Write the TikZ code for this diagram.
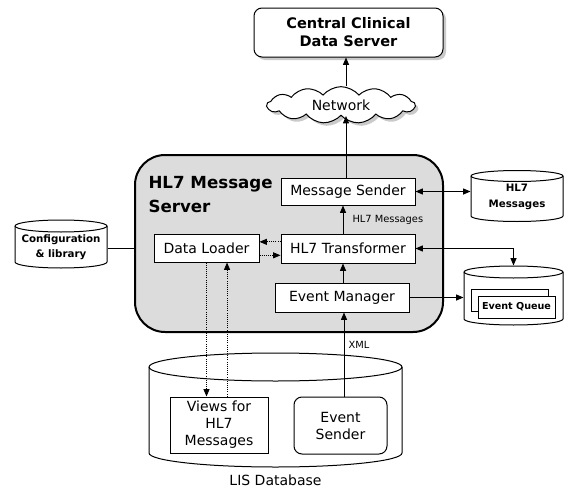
\documentclass[tikz,border=0pt]{standalone}
\usepackage{fontspec}
\setmainfont{DejaVu Sans}
\usetikzlibrary{arrows.meta,shapes.symbols,shadows,calc}
\definecolor{srvfill}{RGB}{220,220,220}
\definecolor{shd}{RGB}{150,150,150}
\newcommand\fs[2]{\fontsize{#1}{#2}\selectfont}
\newcommand\mycyl[5]{%
 \pgfmathsetmacro\cylrx{(#2-#1)/2}%
 \filldraw[fill=white] (#1,-#3) -- (#1,-#4) arc[start angle=180,end angle=360,x radius=\cylrx,y radius=#5] -- (#2,-#3) arc[start angle=0,end angle=180,x radius=\cylrx,y radius=#5] -- cycle;
 \draw (#1,-#3) arc[start angle=180,end angle=360,x radius=\cylrx,y radius=#5];
}
\begin{document}
\begin{tikzpicture}[x=0.75pt,y=0.75pt,line width=0.75pt,
  box/.style={draw,fill=white,inner sep=0pt,align=center,font=\fs{10.5}{12.75}},
  tipa/.tip={Triangle[length=5.5pt,width=4.5pt]},
  arr/.style={-tipa},
  darr/.style={tipa-tipa},
  dotarr/.style={-tipa,densely dotted,line width=0.6pt},
  lbl/.style={font=\fs{7.4}{9},inner sep=0pt},
  cyltext/.style={inner sep=0pt,align=center,font=\bfseries\fs{7.7}{12}},
  shadowed/.style={drop shadow={shadow xshift=2.25pt,shadow yshift=-2.25pt,fill=shd,draw=none}},
  area/.style={inner sep=0pt,draw=none}
]
\useasboundingbox (0,0) rectangle (568,-489);

% columns for vertical connectors
\coordinate (c1) at (346,0);
\coordinate (c2) at (343,0);
\coordinate (c3) at (344,0);

% top server
\node[box,rounded corners=6pt,minimum width=141.75pt,minimum height=36.75pt,
      font=\bfseries\fs{10.9}{13.5},shadowed] (ccds) at (348.5,-32.5) {Central Clinical\\Data Server};

% network cloud
\node[cloud,draw,fill=white,cloud puffs=13,cloud puff arc=100,aspect=4.2,
      minimum width=111pt,minimum height=27.5pt,inner sep=0pt,font=\fs{10.5}{12},shadowed] (net) at (341,-105) {Network};

% HL7 message server
\node[draw,line width=1.5pt,fill=srvfill,rounded corners=22.5pt,
      minimum width=231pt,minimum height=132.75pt] (srv) at (289,-243.5) {};
\node[anchor=north west,inner sep=0pt,align=left,font=\bfseries\fs{12.5}{18}] (srvt) at (148,-175.5) {HL7 Message\\Server};

\node[box,minimum width=100.5pt,minimum height=20.25pt] (ms) at (348,-191.5) {Message Sender};
\node[box,minimum width=100.5pt,minimum height=21.75pt] (ht) at (348,-248.5) {HL7 Transformer};
\node[box,minimum width=100.5pt,minimum height=21.75pt] (em) at (342,-297.5) {Event Manager};
\node[box,minimum width=78.75pt,minimum height=21pt] (dl) at (206.5,-248) {Data Loader};

% HL7 Messages cylinder
\mycyl{471}{563}{176}{216}{5.5}
\node[area,minimum width=69pt,minimum height=38.25pt] (hdb) at (517,-196) {};
\node[cyltext] (hdbt) at (517,-197) {HL7\\Messages};

% Event queue cylinder
\mycyl{464}{563}{272}{319}{6}
\node[area,minimum width=74.25pt,minimum height=44.25pt] (eq) at (513.5,-295.5) {};
\node[draw,fill=white,minimum width=57.75pt,minimum height=16.5pt,inner sep=0pt] (eqb) at (509.5,-300) {};
\node[draw,fill=white,minimum width=57.75pt,minimum height=16.5pt,inner sep=0pt,font=\bfseries\fs{7.2}{9}] (eqf) at (516.5,-307) {Event Queue};

% Configuration cylinder
\mycyl{15}{107}{226}{262}{6}
\node[area,minimum width=69pt,minimum height=36pt] (cfg) at (61,-248) {};
\node[inner sep=0pt,align=center,font=\bfseries\fs{7.7}{11.25}] (cfgt) at (61,-247) {Configuration\\\& library};

% LIS database
\mycyl{149}{402}{367}{453}{14}
\node[area,minimum width=189.75pt,minimum height=85.5pt] (lis) at (275.5,-410) {};
\node[box,minimum width=73.5pt,minimum height=42pt] (vw) at (219,-425) {Views for\\HL7\\Messages};
\node[box,rounded corners=6pt,minimum width=69.75pt,minimum height=42.75pt] (es) at (340.5,-425.5) {Event\\Sender};
\node[inner sep=0pt,font=\fs{10.5}{12}] (lisl) at ([yshift=-9.75pt]lis.south) {LIS Database};

% connectors
\draw[arr] (net.north -| c1) -- (ccds.south -| c1);
\draw[arr] (ms.north -| c1) -- (net.south -| c1);
\draw[arr] (ht.north -| c2) -- node[lbl,midway,anchor=west,xshift=6.75pt] (lblh) {HL7 Messages} (ms.south -| c2);
\draw[arr] (em.north -| c2) -- (ht.south -| c2);
\draw[arr] (es.north -| c3) -- node[lbl,pos=0.61,anchor=west,xshift=3pt] (lblx) {XML} (em.south -| c3);
\draw[darr] (ms.east) -- (ms.east -| hdb.west);
\draw[darr] (ht.east) -| (eq.north);
\draw[arr] (em.east) -- (em.east -| eq.west);
\draw (cfg.east) -- (cfg.east -| srv.west);
\draw[dotarr] ([yshift=5pt]ht.west) -- ([yshift=5pt]ht.west -| dl.east);
\draw[dotarr] ([yshift=-5.5pt]dl.east) -- ([yshift=-5.5pt]dl.east -| ht.west);
\draw[dotarr] (dl.south) -- (dl.south |- vw.north);
\draw[dotarr] ([xshift=15.4pt]dl.south |- vw.north) -- ([xshift=15.4pt]dl.south);
\end{tikzpicture}
\end{document}
